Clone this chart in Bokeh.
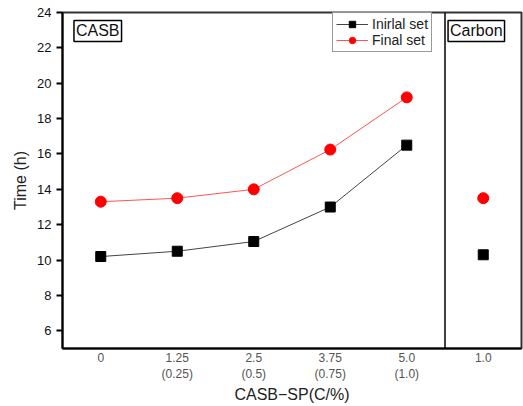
from bokeh.plotting import figure
from bokeh.models import Span, Label, FixedTicker, Legend, LegendItem
from bokeh.embed import file_html
from bokeh.resources import INLINE

# Set times for CASB-SP dosages and the carbon reference
x_pos = [0, 1, 2, 3, 4]
tick_labels = ["0", "1.25\n(0.25)", "2.5\n(0.5)", "3.75\n(0.75)", "5.0\n(1.0)", "1.0"]
initial_set = [10.2, 10.5, 11.05, 13.0, 16.5]
final_set = [13.3, 13.5, 14.0, 16.25, 19.2]
carbon_x = [5]
carbon_initial = [10.3]
carbon_final = [13.5]

FONT = "Liberation Sans"

p = figure(width=523, height=406, x_range=(-0.5, 5.5), y_range=(5, 24),
           output_backend="svg", toolbar_location=None,
           min_border_left=62, min_border_right=2, min_border_top=12, min_border_bottom=0)

p.grid.visible = False
p.outline_line_color = "#333333"
p.outline_line_width = 2

# y axis
p.yaxis.ticker = FixedTicker(ticks=list(range(6, 25, 2)))
p.yaxis.axis_label = "Time (h)"
p.yaxis.axis_label_text_font = FONT
p.yaxis.axis_label_text_font_size = "16px"
p.yaxis.axis_label_text_font_style = "normal"
p.yaxis.axis_label_text_color = "#222222"
p.yaxis.major_label_text_font = FONT
p.yaxis.major_label_text_font_size = "13px"
p.yaxis.major_label_text_color = "#111111"
p.yaxis.axis_line_width = 2
p.yaxis.major_tick_line_width = 2
p.yaxis.major_tick_out = 6
p.yaxis.major_tick_in = 0
p.yaxis.minor_tick_line_color = None

# x axis with categorical-style labels
p.xaxis.ticker = FixedTicker(ticks=[0, 1, 2, 3, 4, 5])
p.xaxis.major_label_overrides = {i: t for i, t in enumerate(tick_labels)}
p.xaxis.major_label_text_font = FONT
p.xaxis.major_label_text_font_size = "12px"
p.xaxis.major_label_text_color = "#555555"
p.xaxis.major_label_standoff = 2
p.xaxis.major_tick_line_color = None
p.xaxis.major_tick_out = 0
p.xaxis.major_tick_in = 0
p.xaxis.minor_tick_line_color = None
p.xaxis.minor_tick_out = 0
p.xaxis.axis_line_width = 2
p.xaxis.axis_label = "CASB\u2212SP(C/%)"
p.xaxis.axis_label_text_font = FONT
p.xaxis.axis_label_text_font_size = "16px"
p.xaxis.axis_label_text_font_style = "normal"
p.xaxis.axis_label_text_color = "#222222"
p.xaxis.axis_label_standoff = 2

# separator between CASB and Carbon panels
p.add_layout(Span(location=4.5, dimension="height", line_color="black", line_width=1.5))

# series
l1 = p.line(x_pos, initial_set, line_color="#444444", line_width=1)
s1 = p.scatter(x_pos, initial_set, marker="square", size=10, color="black")
l2 = p.line(x_pos, final_set, line_color="#ff5555", line_width=1)
s2 = p.scatter(x_pos, final_set, marker="circle", size=11, color="red")
p.scatter(carbon_x, carbon_initial, marker="square", size=10, color="black")
p.scatter(carbon_x, carbon_final, marker="circle", size=11, color="red")

legend = Legend(items=[LegendItem(label="Inirlal set", renderers=[l1, s1]),
                       LegendItem(label="Final set", renderers=[l2, s2])],
                location=(270, 296))
legend.label_text_font = FONT
legend.label_text_font_size = "14px"
legend.label_text_color = "#222222"
legend.label_height = 16
legend.glyph_height = 16
legend.glyph_width = 32
legend.spacing = 0
legend.padding = 3
legend.margin = 0
legend.label_standoff = 4
legend.border_line_color = "#333333"
legend.border_line_width = 1
p.add_layout(legend)

# panel titles
for txt, xx in [("CASB", -0.35), ("Carbon", 4.54)]:
    p.add_layout(Label(x=xx, y=23.55, text=txt, anchor="top_left",
                       text_font=FONT, text_font_size="16px", text_color="#111111",
                       border_line_color="black", border_line_width=1.5,
                       background_fill_color="white", padding=2))

open("out.html", "w").write(file_html(p, INLINE))
